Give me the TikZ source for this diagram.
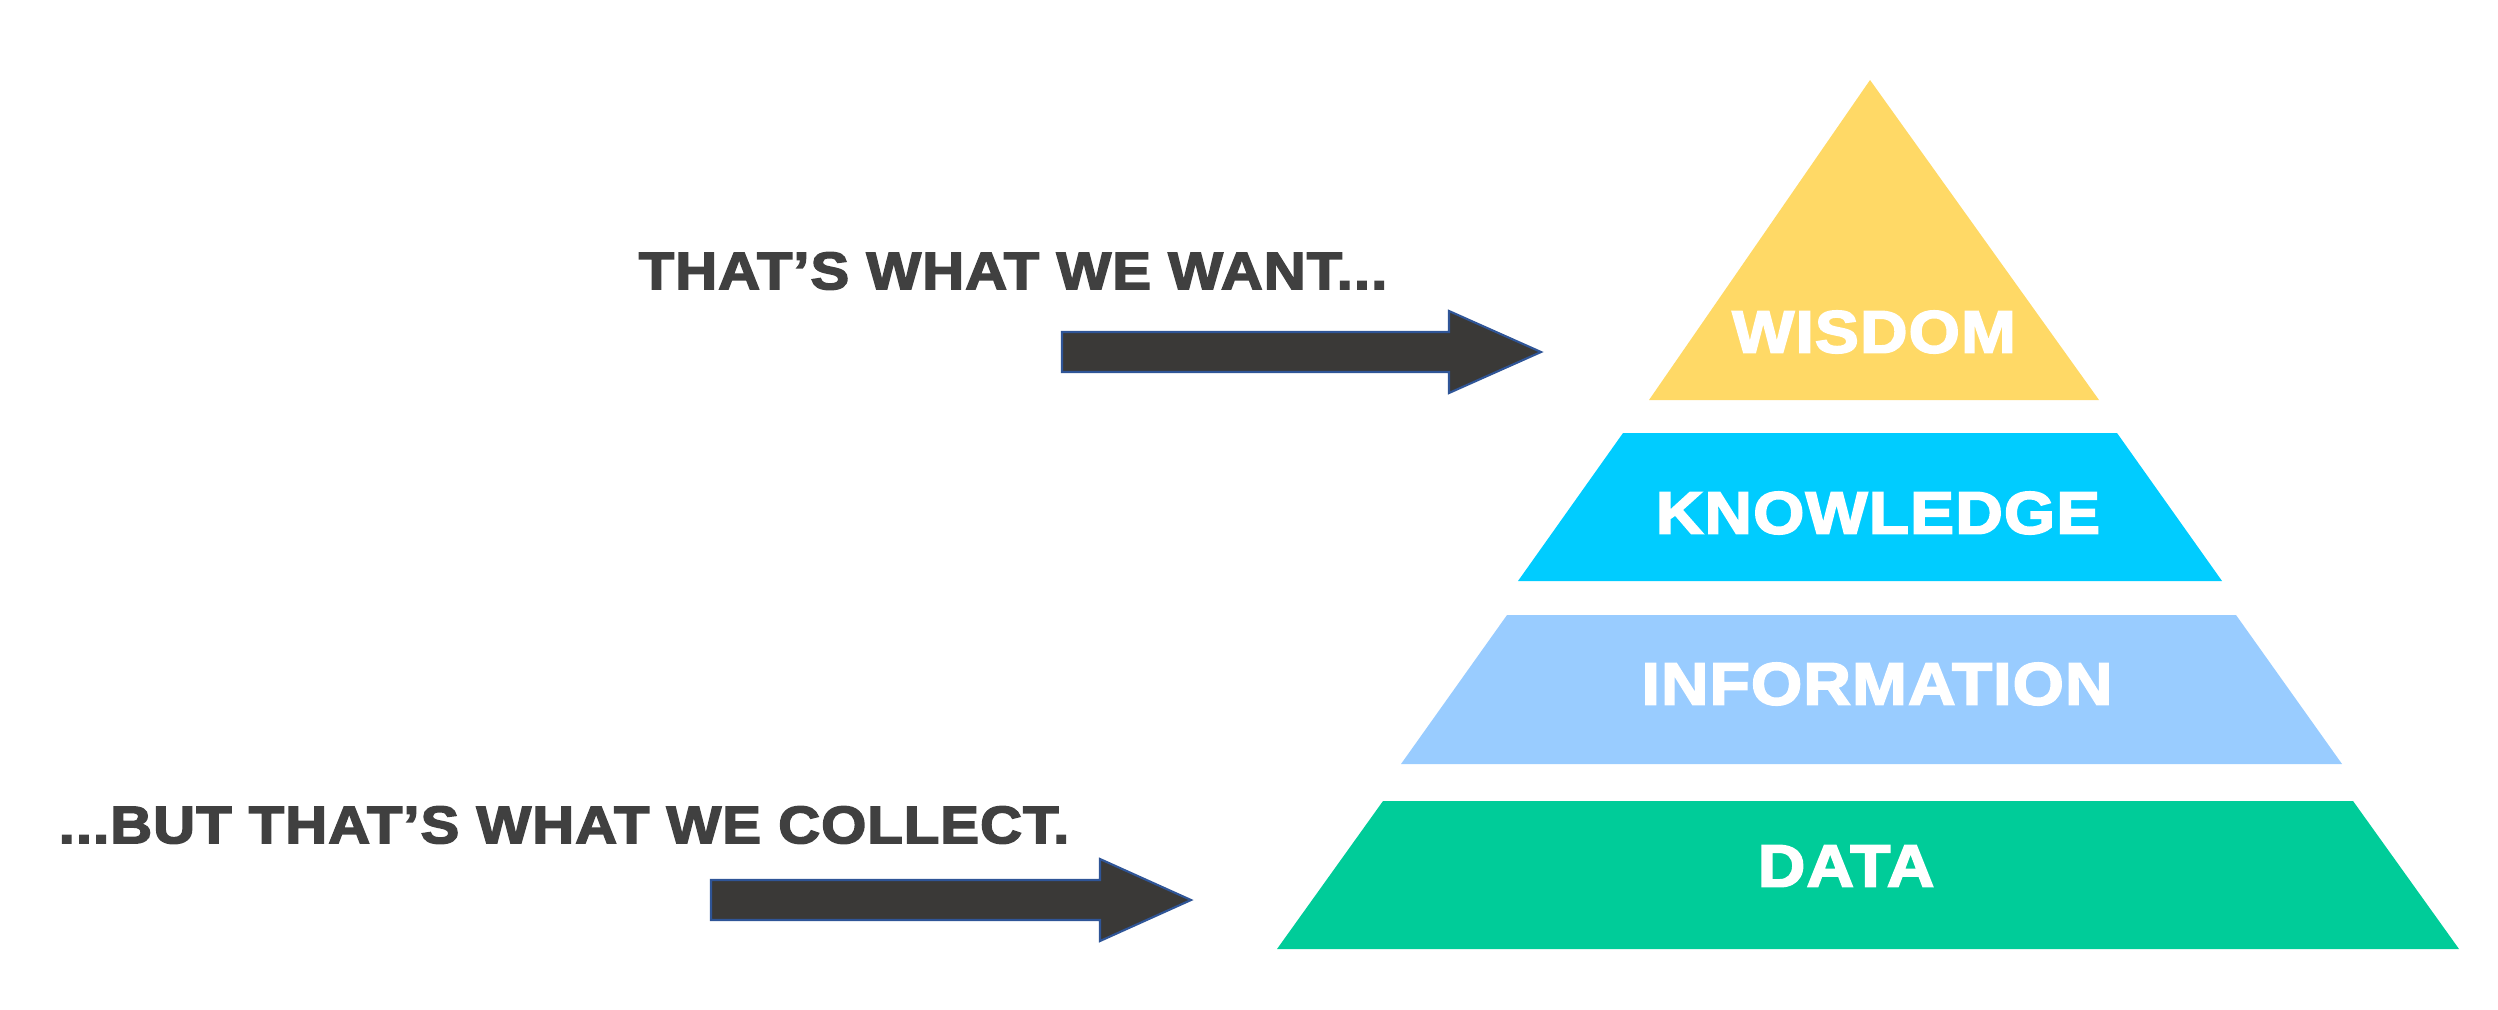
\documentclass[tikz,border=0pt]{standalone}
\usepackage{fontspec}
\newfontfamily\heavyfont{Liberation Sans Bold}[LetterSpace=2,FakeBold=3,FakeStretch=1.1]
\definecolor{wisdomyellow}{HTML}{FFD966}
\definecolor{knowblue}{HTML}{00CCFF}
\definecolor{infoblue}{HTML}{99CCFF}
\definecolor{datagreen}{HTML}{00CC99}
\definecolor{captiongray}{HTML}{404040}
\definecolor{arrowfill}{HTML}{3A3937}
\definecolor{arrowedge}{HTML}{2F5597}

\begin{document}
\begin{tikzpicture}[x=0.01cm, y=-0.01cm,
    level/.style={font=\heavyfont\fontsize{17}{17}\selectfont, text=white, inner sep=0pt},
    caption/.style={font=\heavyfont\fontsize{15}{15}\selectfont, text=captiongray, inner sep=0pt},
    blockarrow/.style={fill=arrowfill, draw=arrowedge, line width=0.6pt, line join=miter}]
        \useasboundingbox (0,0) rectangle (2498,1009);
        % pyramid
        \fill[wisdomyellow] (1870,80) -- (2099,400) -- (1649,400) -- cycle;
        \fill[knowblue] (1623,433) -- (2117,433) -- (2222,581) -- (1518,581) -- cycle;
        \fill[infoblue] (1507,615) -- (2236,615) -- (2342,764) -- (1401,764) -- cycle;
        \fill[datagreen] (1383,801) -- (2353,801) -- (2459,949) -- (1277,949) -- cycle;
        \node[level] (wisdom) at (1874,332) {WISDOM};
        \node[level] (knowledge) at (1878,513) {KNOWLEDGE};
        \node[level] (information) at (1877,684) {INFORMATION};
        \node[level] (data) at (1846,866) {DATA};
        % captions and arrows
        \node[caption] (want) at (1013,271) {THAT’S WHAT WE WANT...};
        \node[caption] (collect) at (564,825) {...BUT THAT’S WHAT WE COLLECT.};
        \draw[blockarrow] (1062,332) -- (1449,332) -- (1449,311) -- (1541,352)
        -- (1449,393) -- (1449,372) -- (1062,372) -- cycle;
        \draw[blockarrow] (711,880) -- (1100,880) -- (1100,859) -- (1191,900)
        -- (1100,941) -- (1100,920) -- (711,920) -- cycle;
      \end{tikzpicture}
\end{document}
